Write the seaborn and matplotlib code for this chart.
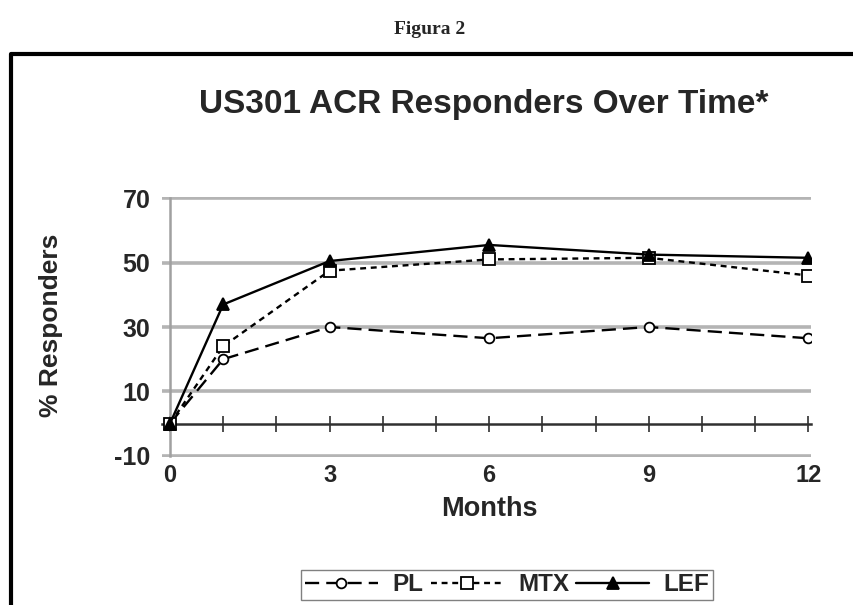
import pandas as pd
import matplotlib.pyplot as plt
import seaborn as sns
from matplotlib.lines import Line2D

months = [0, 1, 3, 6, 9, 12]
pl = [0, 20, 30, 26.5, 30, 26.5]
mtx = [0, 24, 47.5, 51, 51.5, 46]
lef = [0, 37, 50.5, 55.5, 52.5, 51.5]
groups = ['PL', 'MTX', 'LEF']
yticks = [-10, 10, 30, 50, 70]
xticks = [0, 3, 6, 9, 12]

data = pd.DataFrame({'Months': months * 3,
                     'Value': pl + mtx + lef,
                     'Group': [g for g in groups for _ in months]})

sns.set_style('white')
plt.rcParams['font.family'] = ['Liberation Sans', 'DejaVu Sans']
plt.rcParams['axes.unicode_minus'] = False

fig = plt.figure(figsize=(8.54, 6.05), dpi=100)
ax = fig.add_axes([0.1897, 0.2446, 0.760, 0.4298])

styles = {'PL': dict(marker='o', linestyle=(0, (6, 3)), markersize=7),
          'MTX': dict(marker='s', linestyle=(0, (2.5, 2)), markersize=8),
          'LEF': dict(marker='^', linestyle='-', markersize=9)}
for g in groups:
    sub = data[data['Group'] == g]
    st = styles[g]
    sns.lineplot(data=sub, x='Months', y='Value', ax=ax, color='black', lw=1.7,
                 marker=st['marker'], linestyle=st['linestyle'], markersize=st['markersize'],
                 markerfacecolor='black' if g == 'LEF' else 'white',
                 markeredgecolor='black', markeredgewidth=1.3, label=g, zorder=3)

ax.set_xlim(-0.15, 12.05)
ax.set_ylim(-10.4, 70.4)
ax.set_yticks(yticks)
ax.yaxis.grid(True, color='#b4b4b4', lw=2.6)
ax.xaxis.grid(False)
for s in ['top', 'right']:
    ax.spines[s].set_visible(False)
ax.spines['left'].set_position(('data', 0))
ax.spines['left'].set_color('#a0a0a0')
ax.spines['left'].set_linewidth(1.8)
ax.spines['left'].set_bounds(-10, 70)
ax.spines['bottom'].set_position(('data', 0))
ax.spines['bottom'].set_color('#303030')
ax.spines['bottom'].set_linewidth(1.8)
ax.set_xticks(range(13))
ax.tick_params(axis='x', direction='inout', length=11, width=1.2, color='#303030',
               labelbottom=False, bottom=True)
ax.tick_params(axis='y', length=0, pad=14, labelsize=18)
for t in ax.get_yticklabels():
    t.set_fontweight('bold')

sec = ax.secondary_xaxis(0.0)
sec.set_xticks(xticks)
sec.spines['bottom'].set_visible(False)
sec.tick_params(length=0, pad=5, labelsize=17)
for t in sec.get_xticklabels():
    t.set_fontweight('bold')

ax.set_xlabel('Months', fontsize=19.5, fontweight='bold')
ax.xaxis.set_label_coords(0.505, -0.15)
ax.set_ylabel('% Responders', fontsize=19, fontweight='bold')
ax.yaxis.set_label_coords(-0.153, 0.508)

ax.legend(loc='center', bbox_to_anchor=(0.532, -0.492), ncol=3, frameon=True,
          fancybox=False, edgecolor='#606060', prop={'weight': 'bold', 'size': 17.5},
          handlelength=3.0, columnspacing=0.3, handletextpad=0.6, borderpad=0.15,
          borderaxespad=0)

fig.text(484 / 854, 1 - 104 / 605, 'US301 ACR Responders Over Time*', ha='center', va='center',
         fontsize=24, fontweight='bold')
fig.text(430 / 854, 1 - 30 / 605, 'Figura 2', ha='center', va='center',
         fontsize=14, fontweight='bold', family=['Liberation Serif', 'DejaVu Serif'])
fig.add_artist(Line2D([0.013, 0.013, 1.01], [-0.01, 0.911, 0.911], color='black', lw=3,
                      transform=fig.transFigure))

fig.savefig('out.png', dpi=100)
